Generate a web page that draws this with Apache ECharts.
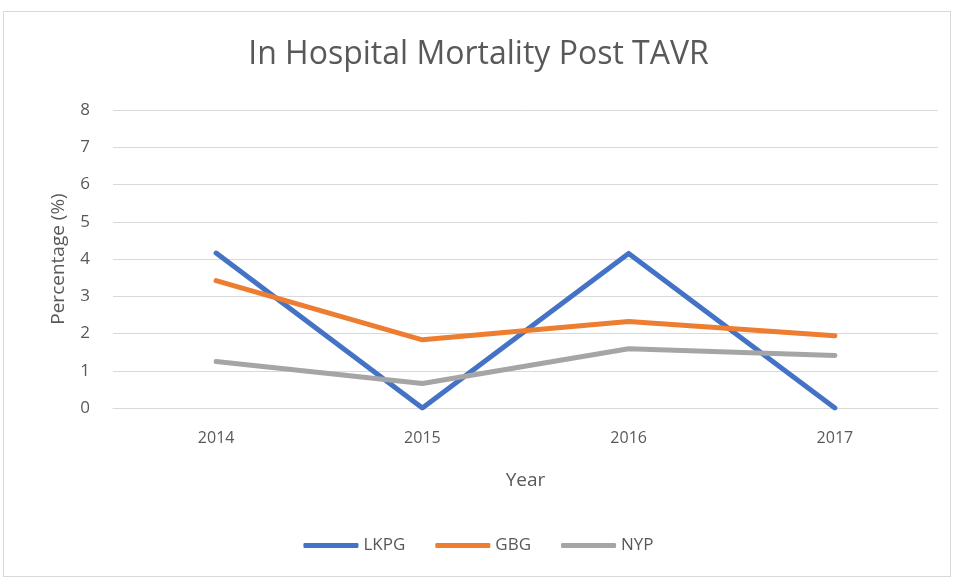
<!DOCTYPE html>
<html>
<head>
<meta charset="utf-8">
<script src="https://cdn.jsdelivr.net/npm/echarts@6/dist/echarts.min.js"></script>
<style>
html,body{margin:0;padding:0;background:#fff;}
#frame{position:absolute;left:3px;top:11px;width:948px;height:566px;border:1px solid #d9d9d9;box-sizing:border-box;}
#chart{position:absolute;left:0;top:0;width:957px;height:579px;}
</style>
</head>
<body>
<div id="frame"></div>
<div id="chart"></div>
<script>
const categories = ['2014', '2015', '2016', '2017'];
const lkpg = [4.16, 0, 4.15, 0];
const gbg = [3.42, 1.83, 2.32, 1.94];
const nyp = [1.25, 0.66, 1.59, 1.41];
const yTicks = { min: 0, max: 8, interval: 1 };

const font = '"Open Sans", "Noto Sans", sans-serif';
const txt = '#595959';
const chart = echarts.init(document.getElementById('chart'));
chart.setOption({
  animation: false,
  title: {
    text: 'In Hospital Mortality Post TAVR',
    left: 'center', top: 34,
    textStyle: { fontFamily: font, fontSize: 32, fontWeight: 'normal', color: txt }
  },
  grid: { left: 113, right: 19, top: 110, bottom: 171 },
  legend: {
    bottom: 20, left: 'center',
    icon: 'roundRect',
    itemWidth: 55, itemHeight: 5, itemGap: 30,
    textStyle: { fontFamily: font, fontSize: 17, color: txt, padding: [0, 0, 0, 0] },
    data: ['LKPG', 'GBG', 'NYP']
  },
  xAxis: {
    type: 'category', data: categories, boundaryGap: true,
    name: 'Year', nameLocation: 'middle', nameGap: 63,
    nameTextStyle: { fontFamily: font, fontSize: 19, color: txt },
    axisLine: { lineStyle: { color: '#d9d9d9', width: 1 } },
    axisTick: { show: false },
    axisLabel: { fontFamily: font, fontSize: 16, color: txt, margin: 22 }
  },
  yAxis: {
    type: 'value', min: yTicks.min, max: yTicks.max, interval: yTicks.interval,
    name: 'Percentage (%)', nameLocation: 'middle', nameGap: 45,
    nameTextStyle: { fontFamily: font, fontSize: 19, color: txt },
    axisLine: { show: false }, axisTick: { show: false },
    axisLabel: { fontFamily: font, fontSize: 17, color: txt, margin: 23 },
    splitLine: { lineStyle: { color: '#d9d9d9', width: 1 } }
  },
  series: [
    { name: 'LKPG', type: 'line', data: lkpg, symbol: 'none', lineStyle: { width: 5, color: '#4472c4', cap: 'round', join: 'round' }, itemStyle: { color: '#4472c4' } },
    { name: 'GBG', type: 'line', data: gbg, symbol: 'none', lineStyle: { width: 5, color: '#ed7d31', cap: 'round', join: 'round' }, itemStyle: { color: '#ed7d31' } },
    { name: 'NYP', type: 'line', data: nyp, symbol: 'none', lineStyle: { width: 5, color: '#a5a5a5', cap: 'round', join: 'round' }, itemStyle: { color: '#a5a5a5' } }
  ]
});
</script>
</body>
</html>
